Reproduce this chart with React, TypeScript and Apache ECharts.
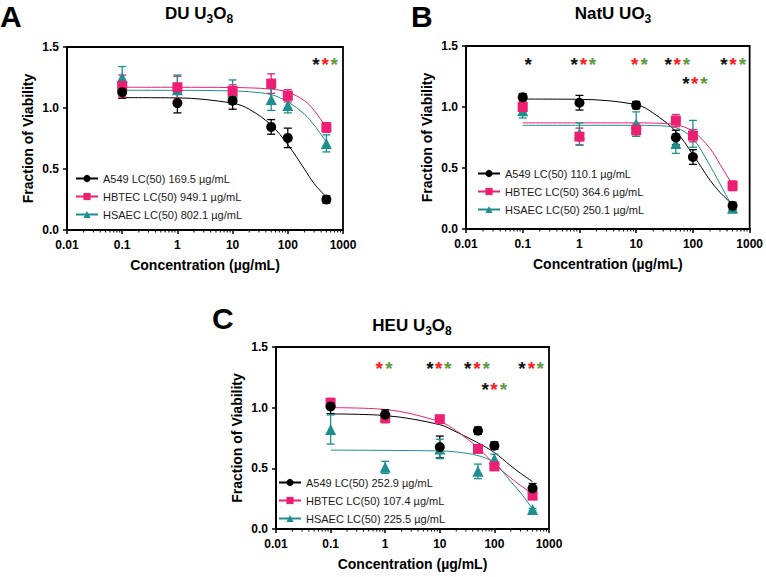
import React, { useEffect, useRef } from "react";
import * as echarts from "echarts";

// ---------- data ----------
const CONC = [0.1, 1, 10, 50, 100, 500];
const CURVE_X = [0.1, 1, 10, 20, 50, 100, 200, 300, 500];
const X_MINOR_TICKS = [
  0.02, 0.03, 0.04, 0.05, 0.06, 0.07, 0.08, 0.09,
  0.2, 0.3, 0.4, 0.5, 0.6, 0.7, 0.8, 0.9,
  2, 3, 4, 5, 6, 7, 8, 9,
  20, 30, 40, 50, 60, 70, 80, 90,
  200, 300, 400, 500, 600, 700, 800, 900,
];
const Y_TICKS_MAX = 1.5;

// Panel A: DU U3O8
const LEGEND_A = ["A549 LC(50) 169.5 µg/mL", "HBTEC LC(50) 949.1 µg/mL", "HSAEC LC(50) 802.1 µg/mL"];
const A549_A = [1.13, 1.04, 1.06, 0.845, 0.755, 0.25];
const A549_A_SD = [0.05, 0.08, 0.07, 0.06, 0.08, 0.03];
const HBTEC_A = [1.18, 1.17, 1.14, 1.2, 1.1, 0.84];
const HBTEC_A_SD = [0.09, 0.09, 0.05, 0.08, 0.05, 0.04];
const HSAEC_A = [1.25, 1.15, 1.13, 1.07, 1.02, 0.71];
const HSAEC_A_SD = [0.09, 0.12, 0.1, 0.09, 0.06, 0.07];
const A549_A_FIT = [1.085, 1.083, 1.04, 0.99, 0.86, 0.7, 0.5, 0.38, 0.27];
const HBTEC_A_FIT = [1.17, 1.17, 1.168, 1.165, 1.155, 1.13, 1.06, 0.98, 0.84];
const HSAEC_A_FIT = [1.145, 1.145, 1.14, 1.133, 1.11, 1.05, 0.95, 0.86, 0.72];
const STAR_BLACK_A = [[325, 1.39]];
const STAR_RED_A = [[475, 1.39]];
const STAR_GREEN_A = [[690, 1.39]];

// Panel B: NatU UO3
const LEGEND_B = ["A549 LC(50) 110.1 µg/mL", "HBTEC LC(50) 364.6 µg/mL", "HSAEC LC(50) 250.1 µg/mL"];
const A549_B = [1.08, 1.035, 1.015, 0.75, 0.59, 0.19];
const A549_B_SD = [0.03, 0.06, 0.03, 0.06, 0.06, 0.03];
const HBTEC_B = [1.0, 0.757, 0.81, 0.888, 0.765, 0.354];
const HBTEC_B_SD = [0.04, 0.07, 0.05, 0.05, 0.05, 0.04];
const HSAEC_B = [0.97, 0.78, 0.86, 0.7, 0.78, 0.17];
const HSAEC_B_SD = [0.06, 0.09, 0.1, 0.08, 0.11, 0.02];
const A549_B_FIT = [1.065, 1.063, 1.02, 0.95, 0.8, 0.61, 0.4, 0.3, 0.2];
const HBTEC_B_FIT = [0.87, 0.87, 0.87, 0.868, 0.855, 0.8, 0.66, 0.53, 0.36];
const HSAEC_B_FIT = [0.85, 0.85, 0.85, 0.848, 0.83, 0.74, 0.52, 0.37, 0.18];
const STAR_BLACK_B = [[0.125, 1.383], [0.81, 1.383], [36.5, 1.383], [353, 1.383], [75, 1.228]];
const STAR_RED_B = [[1.18, 1.383], [9.4, 1.383], [53, 1.383], [509, 1.383], [108, 1.228]];
const STAR_GREEN_B = [[1.7, 1.383], [13.8, 1.383], [77, 1.383], [743, 1.383], [157, 1.228]];

// Panel C: HEU U3O8
const LEGEND_C = ["A549 LC(50) 252.9 µg/mL", "HBTEC LC(50) 107.4 µg/mL", "HSAEC LC(50) 225.5 µg/mL"];
const A549_C = [1.01, 0.942, 0.676, 0.81, 0.687, 0.335];
const A549_C_SD = [0.06, 0.04, 0.09, 0.03, 0.03, 0.04];
const HBTEC_C = [1.038, 0.915, 0.905, 0.66, 0.516, 0.275];
const HBTEC_C_SD = [0.04, 0.04, 0.02, 0.02, 0.02, 0.02];
const HSAEC_C = [0.82, 0.508, 0.66, 0.475, 0.577, 0.16];
const HSAEC_C_SD = [0.12, 0.05, 0.08, 0.06, 0.04, 0.01];
const A549_C_FIT = [0.948, 0.935, 0.86, 0.8, 0.71, 0.63, 0.52, 0.46, 0.39];
const HBTEC_C_FIT = [1.0, 0.985, 0.885, 0.81, 0.67, 0.535, 0.42, 0.36, 0.29];
const HSAEC_C_FIT = [0.65, 0.648, 0.643, 0.635, 0.605, 0.545, 0.39, 0.3, 0.165];
const STAR_BLACK_C = [[6.6, 1.354], [32.5, 1.354], [320, 1.354], [68, 1.181]];
const STAR_RED_C = [[0.78, 1.354], [9.5, 1.354], [48, 1.354], [475, 1.354], [98.6, 1.181]];
const STAR_GREEN_C = [[1.17, 1.354], [14, 1.354], [71, 1.354], [693, 1.354], [146, 1.181]];

// ---------- styling ----------
const FONT = "Liberation Sans, Arial, sans-serif";
const COLORS = ["#000000", "#ec1f72", "#1e8e8e"];
const SYMBOLS = ["circle", "rect", "triangle"];
const SYMBOL_SIZES = [10, 10, 11];
const STAR_COLORS = ["#111111", "#ff1a1a", "#5e9a3e"];
const AXIS_W = 1.8;

const PANELS = [
  {
    grid: { left: 67, top: 47, width: 276, height: 183 },
    legend: { left: 75, top: 173 },
    names: LEGEND_A,
    means: [A549_A, HBTEC_A, HSAEC_A],
    sds: [A549_A_SD, HBTEC_A_SD, HSAEC_A_SD],
    fits: [A549_A_FIT, HBTEC_A_FIT, HSAEC_A_FIT],
    stars: [STAR_BLACK_A, STAR_RED_A, STAR_GREEN_A],
  },
  {
    grid: { left: 466, top: 46, width: 284, height: 183 },
    legend: { left: 477, top: 168 },
    names: LEGEND_B,
    means: [A549_B, HBTEC_B, HSAEC_B],
    sds: [A549_B_SD, HBTEC_B_SD, HSAEC_B_SD],
    fits: [A549_B_FIT, HBTEC_B_FIT, HSAEC_B_FIT],
    stars: [STAR_BLACK_B, STAR_RED_B, STAR_GREEN_B],
  },
  {
    grid: { left: 276, top: 347, width: 273, height: 182 },
    legend: { left: 278, top: 477 },
    names: LEGEND_C,
    means: [A549_C, HBTEC_C, HSAEC_C],
    sds: [A549_C_SD, HBTEC_C_SD, HSAEC_C_SD],
    fits: [A549_C_FIT, HBTEC_C_FIT, HSAEC_C_FIT],
    stars: [STAR_BLACK_C, STAR_RED_C, STAR_GREEN_C],
  },
];

const TITLES = [
  { x: 199, y: 13, parts: [["m", "DU U"], ["s", "3"], ["m", "O"], ["s", "8"]] },
  { x: 613, y: 13, parts: [["m", "NatU UO"], ["s", "3"]] },
  { x: 412, y: 325, parts: [["m", "HEU U"], ["s", "3"], ["m", "O"], ["s", "8"]] },
];
const LETTERS = [
  { x: 0, y: 1, t: "A" },
  { x: 411, y: 1, t: "B" },
  { x: 212, y: 303, t: "C" },
];

function fmtLog(v: number) {
  return String(Number(v.toPrecision(3)));
}

function buildOption() {
  const grids: any[] = [];
  const xAxes: any[] = [];
  const yAxes: any[] = [];
  const legends: any[] = [];
  const series: any[] = [];

  PANELS.forEach((p, i) => {
    grids.push({ ...p.grid, show: true, borderColor: "#000", borderWidth: AXIS_W, backgroundColor: "transparent" });
    xAxes.push({
      type: "log",
      logBase: 10,
      gridIndex: i,
      min: 0.01,
      max: 1000,
      name: "Concentration (µg/mL)",
      nameLocation: "middle",
      nameGap: 28,
      nameTextStyle: { fontFamily: FONT, fontSize: 14, fontWeight: "bold", color: "#000" },
      axisLine: { lineStyle: { color: "#000", width: AXIS_W } },
      axisTick: { length: 4, lineStyle: { color: "#000", width: 1.5 } },
      axisLabel: { fontFamily: FONT, fontSize: 12, fontWeight: "bold", color: "#000", margin: 9, formatter: fmtLog },
      splitLine: { show: false },
    });
    yAxes.push({
      type: "value",
      gridIndex: i,
      min: 0,
      max: Y_TICKS_MAX,
      interval: 0.5,
      name: "Fraction of Viability",
      nameLocation: "middle",
      nameGap: 32,
      nameTextStyle: { fontFamily: FONT, fontSize: 14, fontWeight: "bold", color: "#000" },
      axisLine: { show: true, lineStyle: { color: "#000", width: AXIS_W } },
      axisTick: { show: true, length: 4, lineStyle: { color: "#000", width: 1.5 } },
      axisLabel: { fontFamily: FONT, fontSize: 12, fontWeight: "bold", color: "#000", margin: 8, formatter: (v: number) => v.toFixed(1) },
      splitLine: { show: false },
    });
    legends.push({
      ...p.legend,
      orient: "vertical",
      padding: 0,
      itemWidth: 22,
      itemHeight: 9,
      itemGap: 7,
      selectedMode: false,
      data: p.names,
      textStyle: { fontFamily: FONT, fontSize: 11, color: "#1a1a1a" },
    });

    // minor ticks on the log x-axis
    series.push({
      type: "custom",
      xAxisIndex: i,
      yAxisIndex: i,
      silent: true,
      clip: false,
      data: X_MINOR_TICKS.map((v) => [v, 0]),
      encode: { x: 0, y: 1 },
      renderItem: (_params: any, api: any) => {
        const pt = api.coord([api.value(0), 0]);
        return {
          type: "line",
          shape: { x1: pt[0], y1: pt[1], x2: pt[0], y2: pt[1] + 2.5 },
          style: { stroke: "#000", lineWidth: 1 },
        };
      },
      z: 1,
    });

    p.names.forEach((name, j) => {
      const color = COLORS[j];
      // fitted curve
      series.push({
        type: "line",
        name,
        xAxisIndex: i,
        yAxisIndex: i,
        data: CURVE_X.map((x, k) => [x, p.fits[j][k]]),
        smooth: 0.35,
        showSymbol: false,
        symbol: SYMBOLS[j],
        symbolSize: SYMBOL_SIZES[j],
        lineStyle: { color, width: 1 },
        itemStyle: { color },
        silent: true,
        z: 2,
      });
      // error bars
      series.push({
        type: "custom",
        name: name + " SD",
        xAxisIndex: i,
        yAxisIndex: i,
        silent: true,
        data: CONC.map((x, k) => [x, p.means[j][k] - p.sds[j][k], p.means[j][k] + p.sds[j][k]]),
        encode: { x: 0, y: [1, 2] },
        renderItem: (_params: any, api: any) => {
          const x = api.value(0);
          const lo = api.coord([x, api.value(1)]);
          const hi = api.coord([x, api.value(2)]);
          const w = 4;
          const st = { stroke: color, lineWidth: 1.3 };
          return {
            type: "group",
            children: [
              { type: "line", shape: { x1: lo[0], y1: lo[1], x2: hi[0], y2: hi[1] }, style: st },
              { type: "line", shape: { x1: lo[0] - w, y1: lo[1], x2: lo[0] + w, y2: lo[1] }, style: st },
              { type: "line", shape: { x1: hi[0] - w, y1: hi[1], x2: hi[0] + w, y2: hi[1] }, style: st },
            ],
          };
        },
        z: 3,
      });
      // mean points
      series.push({
        type: "scatter",
        name: name + " mean",
        xAxisIndex: i,
        yAxisIndex: i,
        silent: true,
        data: CONC.map((x, k) => [x, p.means[j][k]]),
        symbol: SYMBOLS[j],
        symbolSize: SYMBOL_SIZES[j],
        itemStyle: { color, opacity: 1 },
        z: 4 + (2 - j) * 0.1,
      });
    });

    // significance asterisks
    p.stars.forEach((pts, j) => {
      const c = STAR_COLORS[j];
      series.push({
        type: "custom",
        name: "stars" + i + "_" + j,
        xAxisIndex: i,
        yAxisIndex: i,
        silent: true,
        clip: false,
        data: pts,
        encode: { x: 0, y: 1 },
        renderItem: (_params: any, api: any) => {
          const pt = api.coord([api.value(0), api.value(1)]);
          return {
            type: "text",
            x: pt[0],
            y: pt[1] + 4,
            style: {
              text: "*",
              fontFamily: FONT,
              fontSize: 19,
              fontWeight: "bold",
              fill: c,
              align: "center",
              verticalAlign: "middle",
            },
          };
        },
        z: 5,
      });
    });
  });

  const graphics: any[] = [];
  TITLES.forEach((t) => {
    graphics.push({
      type: "text",
      x: t.x,
      y: t.y,
      silent: true,
      style: {
        text: t.parts.map(([k, s]) => `{${k}|${s}}`).join(""),
        align: "center",
        verticalAlign: "middle",
        rich: {
          m: { fontFamily: FONT, fontSize: 17, fontWeight: "bold", fill: "#000", lineHeight: 24 },
          s: { fontFamily: FONT, fontSize: 12, fontWeight: "bold", fill: "#000", lineHeight: 12, verticalAlign: "bottom" },
        },
      },
    });
  });
  LETTERS.forEach((l) => {
    graphics.push({
      type: "text",
      x: l.x,
      y: l.y,
      silent: true,
      style: { text: l.t, fontFamily: FONT, fontSize: 30, fontWeight: "bold", fill: "#000", align: "left", verticalAlign: "top" },
    });
  });

  return {
    animation: false,
    backgroundColor: "#ffffff",
    grid: grids,
    xAxis: xAxes,
    yAxis: yAxes,
    legend: legends,
    series,
    graphic: graphics,
  };
}

export default function App() {
  const ref = useRef<HTMLDivElement>(null);
  useEffect(() => {
    if (!ref.current) return;
    const chart = echarts.init(ref.current, undefined, { renderer: "svg" });
    chart.setOption(buildOption() as any);
    return () => chart.dispose();
  }, []);
  return (
    <div
      ref={ref}
      style={{ position: "fixed", left: 0, top: 0, width: 766, height: 577, background: "#fff" }}
    />
  );
}
